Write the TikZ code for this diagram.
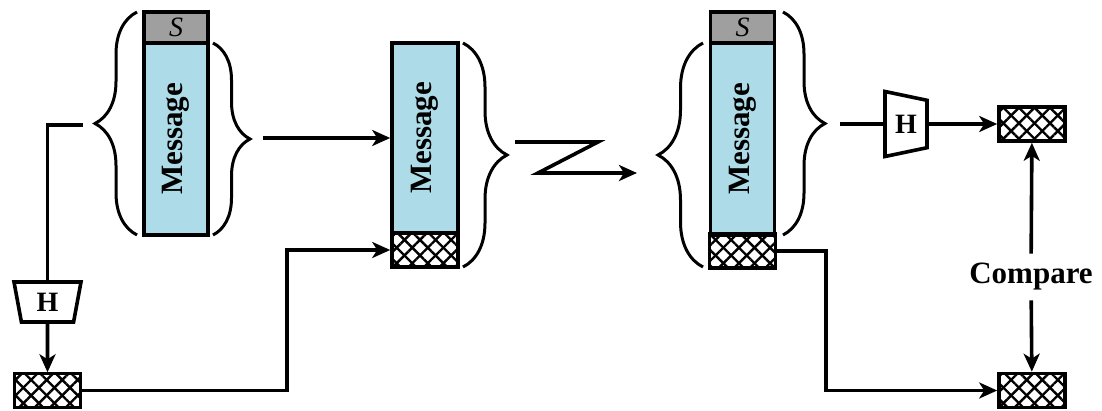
\documentclass[tikz,border=0pt]{standalone}
\usepackage{fontspec}
\setmainfont{Liberation Serif}
\usetikzlibrary{shapes}
\usetikzlibrary{arrows.meta}
\usetikzlibrary{patterns.meta}
\usetikzlibrary{decorations.pathreplacing}
\definecolor{msgblue}{HTML}{ADDCE8}
\tikzstyle{msg}=[draw=black,fill=msgblue,minimum width=32pt,minimum height=96pt,inner sep=0pt,font=\bfseries\fontsize{15.5}{15.5}\selectfont]
\tikzstyle{key}=[draw=black,fill=gray!75,minimum width=32pt,minimum height=15.5pt,inner sep=0pt,font=\itshape\fontsize{14}{14}\selectfont]
\tikzstyle{code}=[draw=black,fill=white,minimum width=33pt,minimum height=17pt,inner sep=0pt,
  pattern={Lines[angle=45,distance=5.5pt,line width=1.2pt]},
  postaction={pattern={Lines[angle=-45,distance=5.5pt,line width=1.2pt]}}]
\tikzstyle{hash}=[trapezium,draw=black,fill=white,trapezium angle=68,trapezium stretches body,inner sep=0pt,font=\bfseries\fontsize{14}{14}\selectfont]
\tikzstyle{arrow}=[->,>={Stealth[length=9pt,width=8pt,inset=2.5pt]}]
\tikzset{curly/.style={decorate,decoration={brace,amplitude=#1}},
  every picture/.style={
    line width=1.8pt
  }
}

\begin{document}
\begin{tikzpicture}[x=0.5pt,y=-0.5pt]
      \useasboundingbox (0,0) rectangle (1102,411);
      % sender
      \node[key] at (176,27.5) (s1) {S};
      \node[msg] at (176,139) (m1) {\rotatebox{90}{Message}};
      \draw[curly=21pt,line width=1.5pt] (137,235) -- (137,12);
      \draw[curly=18.5pt,line width=1.5pt] (213,43) -- (213,235);
      \coordinate (in1) at (83,125);
      \coordinate (out1) at (263,138);
      \node[hash,shape border rotate=180,minimum width=33.5pt,minimum height=20pt] at (47.5,302) (h1) {H};
      \node[code] at (47.5,390.5) (d1) {};
      \coordinate (k1) at (287,250);
      % message sent
      \node[msg,minimum width=33pt,minimum height=95pt] at (425,138) (m2) {\rotatebox{90}{Message}};
      \node[code] at (425,250) (c2) {};
      \draw[curly=22pt,line width=1.5pt] (463,43) -- (463,267);
      \coordinate (z1) at (515,142);
      \coordinate (z2) at (598,142);
      \coordinate (z3) at (538,173);
      \coordinate (z4) at (637,173);
      % receiver
      \node[key] at (742.5,27.5) (s3) {S};
      \node[msg] at (742.5,139) (m3) {\rotatebox{90}{Message}};
      \node[code] at (742.5,251) (c3) {};
      \draw[curly=22.5pt,line width=1.5pt] (703,267) -- (703,43);
      \draw[curly=21pt,line width=1.5pt] (783,12) -- (783,235);
      \coordinate (in3) at (840,124);
      \node[hash,shape border rotate=270,minimum width=32.5pt,minimum height=21pt] at (906,124) (h2) {H};
      \node[code] at (1032,124) (d3) {};
      \node[code] at (1032,390.5) (d4) {};
      \coordinate (k2) at (826,251);
      \node[font=\bfseries\fontsize{15.5}{15.5}\selectfont,inner sep=4pt] at (1031,277) (cmp) {Compare};
      \draw (in1) -| (h1);
      \draw[arrow] (h1) -- (d1);
      \draw[arrow] (d1.east) -| (k1) -- (c2.west);
      \draw[arrow] (out1) -- (m2.west);
      \draw[arrow] (z1) -- (z2) -- (z3) -- (z4);
      \draw (in3) -- (h2);
      \draw[arrow] (h2) -- (d3);
      \draw[arrow] (c3.east) -- (k2) |- (d4.west);
      \draw[arrow] (cmp) -- (d3);
      \draw[arrow] (cmp) -- (d4);
    \end{tikzpicture}
\end{document}
